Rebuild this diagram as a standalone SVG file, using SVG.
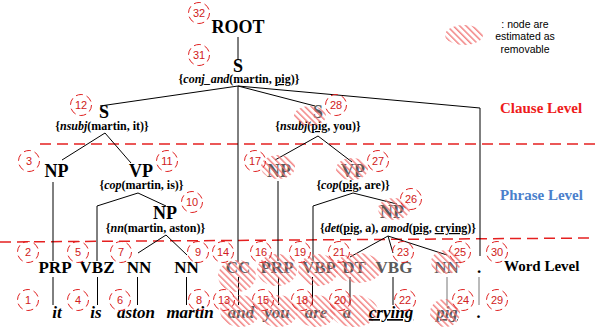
<svg xmlns="http://www.w3.org/2000/svg" width="595" height="327" viewBox="0 0 595 327">
<defs>
<pattern id="hatch" patternUnits="userSpaceOnUse" width="4.5" height="4.5" patternTransform="rotate(-45)">
<rect x="0" y="0" width="1.5" height="4.5" fill="#f07070"/>
</pattern>
</defs>
<style>
.lbl{font-family:"Liberation Serif",serif;font-weight:bold;fill:#000;text-anchor:middle}
.big{font-size:18px}
.tag{font-size:17px}
.rel{font-size:12px}
.word{font-size:17px;font-style:italic}
.rm{fill:#5a5a5a}
.num circle{fill:none;stroke:#e02020;stroke-width:1;stroke-dasharray:7 4}
.num text{font-family:"Liberation Sans",sans-serif;font-size:11px;fill:#d02020;text-anchor:middle}
.edge{stroke:#000;stroke-width:1;fill:none}
.g{stroke:#777}
.h{fill:url(#hatch);opacity:0.85}
.lvl{font-family:"Liberation Serif",serif;font-weight:bold;font-size:15px}
.sep{stroke:#e52020;stroke-width:1.5;stroke-dasharray:11 6;fill:none}
.leg{font-family:"Liberation Sans",sans-serif;font-size:10.5px;fill:#000;text-anchor:middle}
.u{text-decoration:underline}
.i{font-style:italic}
</style>

<g id="levels">
<path class="sep" d="M40 144 H595"/>
<path class="sep" d="M0 242 L595 238"/>
<text class="lvl" x="500" y="113" fill="#ee1c1c">Clause Level</text>
<text class="lvl" x="500" y="200" fill="#4a7fcc">Phrase Level</text>
<text class="lvl" x="504" y="271" fill="#000">Word Level</text>
</g>

<g id="legend">
<ellipse class="h" cx="464" cy="35" rx="19" ry="10"/>
<text class="leg" x="525" y="27.5">: node are</text>
<text class="leg" x="525" y="40">estimated as</text>
<text class="leg" x="525" y="52.5">removable</text>
</g>

<g id="connectors">
<path class="edge" d="M238 37 V60"/>
<path class="edge" d="M238 86 L100 106"/>
<path class="edge" d="M238 86 L315 106"/>
<path class="edge" d="M238 86 V262"/>
<path class="edge" d="M238 86 L480 108 V256"/>
<path class="edge" d="M105 133 L62 160"/>
<path class="edge" d="M105 133 L131 163"/>
<path class="edge" d="M53 182 V261"/>
<path class="edge" d="M138 193 L97 206 V261"/>
<path class="edge" d="M138 193 L166 206"/>
<path class="edge" d="M166 235 L138 253"/>
<path class="edge" d="M166 235 L187 255"/>
<path class="edge" d="M318 136 L275 160"/>
<path class="edge" d="M318 136 L352 162"/>
<path class="edge" d="M278 181 V261"/>
<path class="edge" d="M353 193 L313 206 V261"/>
<path class="edge" d="M353 193 L397 204"/>
<path class="edge" d="M388 236 L350 257"/>
<path class="edge" d="M388 236 L393 253"/>
<path class="edge" d="M388 236 L447 255"/>
<path class="edge" d="M53 277 V305"/>
<path class="edge" d="M97.5 277 V305"/>
<path class="edge" d="M137.5 277 V305"/>
<path class="edge" d="M186.5 277 V305"/>
<path class="edge" d="M238.5 277 V305"/>
<path class="edge" d="M278.5 277 V305"/>
<path class="edge" d="M312.5 277 V305"/>
<path class="edge" d="M350 277 V305"/>
<path class="edge" d="M393 277 V305"/>
<path class="edge g" d="M447 277 V305"/>
<path class="edge g" d="M479 277 V305"/>
</g>

<g id="n32">
<text class="lbl big" x="238" y="33">ROOT</text>
<g class="num"><circle cx="199" cy="13" r="10.5"/><text x="199" y="17">32</text></g>
</g>
<g id="n31">
<text class="lbl big" x="238" y="72">S</text>
<text class="lbl rel" x="239" y="83">{<tspan class="i">conj_and</tspan>(martin, <tspan class="u">pig</tspan>)}</text>
<g class="num"><circle cx="199" cy="55" r="10.5"/><text x="199" y="59">31</text></g>
</g>
<g id="n12">
<text class="lbl big" x="104" y="118">S</text>
<text class="lbl rel" x="102" y="130">{<tspan class="i">nsubj</tspan>(martin, it)}</text>
<g class="num"><circle cx="81" cy="105" r="10.5"/><text x="81" y="109">12</text></g>
</g>
<g id="n28">
<text class="lbl big rm" x="318" y="118">S</text>
<text class="lbl rel" x="318" y="130">{<tspan class="i">nsubj</tspan>(<tspan class="u">pig</tspan>, you)}</text>
<ellipse class="h" cx="310" cy="116" rx="16" ry="10"/>
<g class="num"><circle cx="336" cy="105" r="10.5"/><text x="336" y="109">28</text></g>
</g>
<g id="n3">
<text class="lbl big" x="56.5" y="177">NP</text>
<g class="num"><circle cx="29" cy="161" r="10.5"/><text x="29" y="165">3</text></g>
</g>
<g id="n11">
<text class="lbl big" x="141" y="177">VP</text>
<text class="lbl rel" x="141.5" y="189">{<tspan class="i">cop</tspan>(martin, is)}</text>
<g class="num"><circle cx="167" cy="161" r="10.5"/><text x="167" y="165">11</text></g>
</g>
<g id="n10">
<text class="lbl big" x="165" y="219">NP</text>
<text class="lbl rel" x="155.5" y="232">{<tspan class="i">nn</tspan>(martin, aston)}</text>
<g class="num"><circle cx="192" cy="202" r="10.5"/><text x="192" y="206">10</text></g>
</g>
<g id="n17">
<text class="lbl big rm" x="279" y="177">NP</text>
<ellipse class="h" cx="278" cy="167" rx="17" ry="12"/>
<g class="num"><circle cx="255" cy="161" r="10.5"/><text x="255" y="165">17</text></g>
</g>
<g id="n27">
<text class="lbl big rm" x="353" y="177">VP</text>
<text class="lbl rel" x="353" y="189">{<tspan class="i">cop</tspan>(<tspan class="u">pig</tspan>, are)}</text>
<ellipse class="h" cx="352" cy="169" rx="16" ry="11"/>
<g class="num"><circle cx="378" cy="161" r="10.5"/><text x="378" y="165">27</text></g>
</g>
<g id="n26">
<text class="lbl big rm" x="392" y="218">NP</text>
<text class="lbl rel" x="398" y="232">{<tspan class="i">det</tspan>(<tspan class="u">pig</tspan>, a), <tspan class="i">amod</tspan>(<tspan class="u">pig</tspan>, <tspan class="u">crying</tspan>)}</text>
<ellipse class="h" cx="394" cy="209" rx="16" ry="11"/>
<g class="num"><circle cx="411" cy="199" r="10.5"/><text x="411" y="203">26</text></g>
</g>

<g id="n2"><text class="lbl tag" x="55" y="273">PRP</text><g class="num"><circle cx="28" cy="252" r="10.5"/><text x="28" y="256">2</text></g></g>
<g id="n5"><text class="lbl tag" x="97" y="273">VBZ</text><g class="num"><circle cx="78" cy="252" r="10.5"/><text x="78" y="256">5</text></g></g>
<g id="n7"><text class="lbl tag" x="139" y="273">NN</text><g class="num"><circle cx="121" cy="252" r="10.5"/><text x="121" y="256">7</text></g></g>
<g id="n9"><text class="lbl tag" x="186.5" y="273">NN</text><g class="num"><circle cx="198" cy="252" r="10.5"/><text x="198" y="256">9</text></g></g>
<g id="n14"><text class="lbl tag rm" x="238" y="273">CC</text><ellipse class="h" cx="237" cy="276" rx="19" ry="16"/><g class="num"><circle cx="223" cy="252" r="10.5"/><text x="223" y="256">14</text></g></g>
<g id="n16"><text class="lbl tag rm" x="277" y="273">PRP</text><ellipse class="h" cx="277" cy="270" rx="20" ry="16"/><g class="num"><circle cx="261" cy="252" r="10.5"/><text x="261" y="256">16</text></g></g>
<g id="n19"><text class="lbl tag rm" x="319" y="273">VBP</text><ellipse class="h" cx="318" cy="270" rx="20" ry="16"/><g class="num"><circle cx="300" cy="252" r="10.5"/><text x="300" y="256">19</text></g></g>
<g id="n21"><text class="lbl tag rm" x="354" y="273">DT</text><ellipse class="h" cx="358" cy="268" rx="24" ry="15"/><g class="num"><circle cx="339" cy="252" r="10.5"/><text x="339" y="256">21</text></g></g>
<g id="n23"><text class="lbl tag rm" x="394" y="273">VBG</text><g class="num"><circle cx="403" cy="252" r="10.5"/><text x="403" y="256">23</text></g></g>
<g id="n25"><text class="lbl tag rm" x="446.5" y="273">NN</text><ellipse class="h" cx="446" cy="262" rx="15" ry="12"/><g class="num"><circle cx="460" cy="252" r="10.5"/><text x="460" y="256">25</text></g></g>
<g id="n30"><text class="lbl tag" x="479" y="273">.</text><g class="num"><circle cx="497" cy="252" r="10.5"/><text x="497" y="256">30</text></g></g>

<g id="n1"><text class="lbl word" x="57" y="318">it</text><g class="num"><circle cx="28" cy="300" r="10.5"/><text x="28" y="304">1</text></g></g>
<g id="n4"><text class="lbl word" x="96" y="318">is</text><g class="num"><circle cx="78" cy="300" r="10.5"/><text x="78" y="304">4</text></g></g>
<g id="n6"><text class="lbl word" x="136" y="318">aston</text><g class="num"><circle cx="120" cy="300" r="10.5"/><text x="120" y="304">6</text></g></g>
<g id="n8"><text class="lbl word" x="190" y="318">martin</text><g class="num"><circle cx="199" cy="300" r="10.5"/><text x="199" y="304">8</text></g></g>
<g id="n13"><text class="lbl word rm" x="241" y="318">and</text><ellipse class="h" cx="240" cy="311" rx="20" ry="16"/><g class="num"><circle cx="224" cy="300" r="10.5"/><text x="224" y="304">13</text></g></g>
<g id="n15"><text class="lbl word rm" x="277" y="318">you</text><ellipse class="h" cx="278" cy="311" rx="20" ry="16"/><g class="num"><circle cx="263" cy="300" r="10.5"/><text x="263" y="304">15</text></g></g>
<g id="n18"><text class="lbl word rm" x="316" y="318">are</text><ellipse class="h" cx="316" cy="311" rx="20" ry="16"/><g class="num"><circle cx="302" cy="300" r="10.5"/><text x="302" y="304">18</text></g></g>
<g id="n20"><text class="lbl word rm" x="347" y="318">a</text><ellipse class="h" cx="354" cy="311" rx="24" ry="16"/><g class="num"><circle cx="340" cy="300" r="10.5"/><text x="340" y="304">20</text></g></g>
<g id="n22"><text class="lbl word u" x="391" y="318">crying</text><g class="num"><circle cx="405" cy="300" r="10.5"/><text x="405" y="304">22</text></g></g>
<g id="n24"><text class="lbl word rm u" x="447" y="318">pig</text><ellipse class="h" cx="445" cy="313" rx="15" ry="14"/><g class="num"><circle cx="463" cy="300" r="10.5"/><text x="463" y="304">24</text></g></g>
<g id="n29"><text class="lbl word" x="479" y="318">.</text><g class="num"><circle cx="497" cy="300" r="10.5"/><text x="497" y="304">29</text></g></g>
</svg>
